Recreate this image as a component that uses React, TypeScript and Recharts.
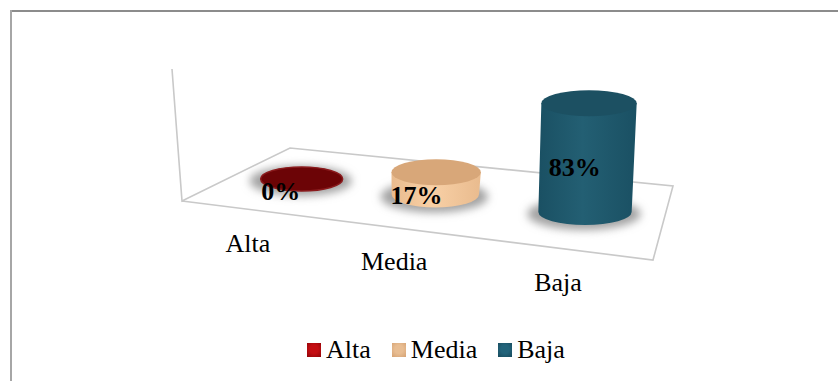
import React from "react";
import { BarChart, Bar, XAxis, YAxis, Legend } from "recharts";

const categories = ["Alta", "Media", "Baja"];
const shares = [0, 17, 83];
const topColors = ["#6c0406", "#d8a779", "#1c5062"];
const edgeColors = ["#8a1a1c", "#e9bb8e", "#1a5063"];
const midColors = ["#7a0a0c", "#f8d0a6", "#235f73"];
const swatchColors = ["#c40d12", "#e8bd92", "#22637a"];
const swatchDark = ["#8e0508", "#d5a273", "#184a5c"];

const chartData = categories.map((name, i) => ({ name, share: shares[i] }));

const FONT = '"Liberation Serif", serif';
const FLOOR_SLOPE = 0.1166; // rise of the floor per pixel, towards the viewer
const REF_X = 302;
const columnNudge = [0, -8, 0]; // perspective crowds the middle column to the left

const centerOf = (bandCenter: number, index: number) => bandCenter + columnNudge[index];

// Column footprint: the zero line of the value scale, pushed down along the slanted floor.
function footprint(x: number, width: number, y: number, height: number, index: number) {
  const cx = centerOf(x + width / 2, index);
  const baseY = y + height + (cx - REF_X) * FLOOR_SLOPE;
  const rx = 41 + (cx - REF_X) * 0.02;
  const ry = index === 0 ? 12 : 13;
  return { cx, baseY, rx, ry, topX: cx + height * 0.037, topY: baseY - height };
}

function Cylinder(props: any) {
  const { x, width, y, height, index } = props;
  const { cx, baseY, rx, ry, topX, topY } = footprint(x, width, y, height, index);
  return (
    <g>
      <ellipse cx={cx - 1} cy={baseY + 2} rx={rx + 10} ry={ry + 3} fill="#a2a2a2" filter="url(#floorShadow)" />
      {height > 0 && (
        <path
          d={`M${topX - rx - 1} ${topY} L${cx - rx} ${baseY} A${rx} ${ry} 0 0 0 ${cx + rx} ${baseY} L${topX + rx + 1} ${topY} Z`}
          fill={`url(#side${index})`}
        />
      )}
      <ellipse
        cx={topX}
        cy={topY}
        rx={rx + (height > 0 ? 1 : 0)}
        ry={ry}
        fill={topColors[index]}
        stroke={height > 0 ? "none" : edgeColors[index]}
        strokeWidth={1.5}
      />
    </g>
  );
}

function ShareLabel(props: any) {
  const { x, width, y, height, index, value } = props;
  const { cx, baseY } = footprint(x, width, y, height, index);
  return (
    <text
      x={cx - 21 + height * 0.1}
      y={baseY + 21 - height * 0.527}
      textAnchor="middle"
      fontFamily={FONT}
      fontSize={26}
      fontWeight="bold"
      fill="#000"
    >
      {`${value}%`}
    </text>
  );
}

function CategoryTick(props: any) {
  const { x, index, payload } = props;
  const cx = centerOf(x, index);
  return (
    <text
      x={cx - 54 + (cx - REF_X) * 0.095}
      y={252 + (cx - REF_X) * 0.138}
      textAnchor="middle"
      fontFamily={FONT}
      fontSize={26}
      fill="#000"
    >
      {payload.value}
    </text>
  );
}

function KeyRow() {
  return (
    <div style={{ display: "flex", alignItems: "center", fontFamily: FONT, fontSize: 26, lineHeight: "30px", color: "#000" }}>
      {categories.map((name, i) => (
        <div key={name} style={{ display: "flex", alignItems: "center", marginRight: 21 }}>
          <span
            style={{
              display: "inline-block",
              width: 14,
              height: 14,
              marginRight: 5,
              background: `radial-gradient(circle at 50% 45%, ${swatchColors[i]} 40%, ${swatchDark[i]} 100%)`,
            }}
          />
          {name}
        </div>
      ))}
    </div>
  );
}

export default function App() {
  return (
    <div style={{ position: "absolute", left: 0, top: 0, width: 838, height: 381, background: "#fff", overflow: "hidden" }}>
      <div style={{ position: "absolute", left: 10, top: 10, right: 0, height: 2, background: "#8c8c8c" }} />
      <div style={{ position: "absolute", left: 10, top: 10, bottom: 0, width: 2, background: "#a6a6a6" }} />
      <BarChart
        width={838}
        height={381}
        data={chartData}
        margin={{ top: 48, right: 182, bottom: 0, left: 231 }}
        barCategoryGap="40%"
        style={{ position: "absolute", left: 0, top: 0 }}
      >
        <defs>
          <filter id="floorShadow" x="-30%" y="-60%" width="160%" height="220%">
            <feGaussianBlur stdDeviation="4" />
          </filter>
          {categories.map((name, i) => (
            <linearGradient key={name} id={`side${i}`} x1="0" y1="0" x2="1" y2="0">
              <stop offset="0%" stopColor={edgeColors[i]} />
              <stop offset="45%" stopColor={midColors[i]} />
              <stop offset="100%" stopColor={edgeColors[i]} />
            </linearGradient>
          ))}
        </defs>
        {/* slanted floor and back-wall edge of the 3D plot box */}
        <g fill="none" stroke="#c9c9c9" strokeWidth={1.6}>
          <polyline points="172,69 182,201 290,148 673,186 653,260 182,201" />
        </g>
        <XAxis dataKey="name" axisLine={false} tickLine={false} tick={CategoryTick} height={172} interval={0} />
        <YAxis domain={[0, 100]} hide />
        <Legend
          content={KeyRow}
          wrapperStyle={{ position: "absolute", left: 307, top: 335, width: "auto", height: 30 }}
        />
        <Bar dataKey="share" shape={Cylinder} label={ShareLabel} isAnimationActive={false} />
      </BarChart>
    </div>
  );
}
